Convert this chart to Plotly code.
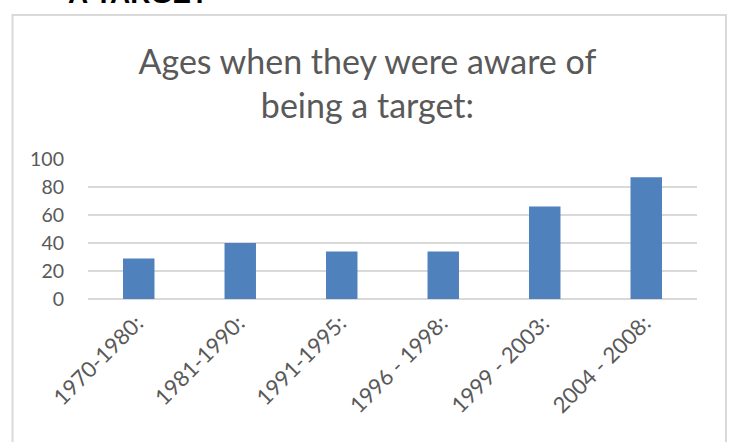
import plotly.graph_objects as go

categories = ["1970-1980:", "1981-1990:", "1991-1995:", "1996 - 1998:", "1999 - 2003:", "2004 - 2008:"]
values = [29, 40, 34, 34, 66, 87]
y_ticks = [0, 20, 40, 60, 80, 100]
title_lines = ["Ages when they were aware of", "being a target:"]
header_text = "A TARGET"

W, H = 729, 442
L, R, T, B = 88, 32, 159, 143
PW, PH = W - L - R, H - T - B

def px_x(p):
    return (p - L) / PW

def px_y(p):
    return (H - B - p) / PH

FONT = "Lato"
GREY = "#595959"
GRID = "#D9D9D9"

fig = go.Figure(
    go.Bar(
        x=categories,
        y=values,
        marker=dict(color="#4F81BD", line=dict(width=0)),
    )
)

fig.update_layout(
    width=W,
    height=H,
    margin=dict(l=L, r=R, t=T, b=B, pad=0),
    paper_bgcolor="white",
    plot_bgcolor="white",
    bargap=0.69,
    showlegend=False,
    font=dict(family=FONT, color=GREY),
    title=dict(
        text="<br>".join(title_lines),
        font=dict(family=FONT, size=34, color=GREY),
        x=0.504,
        xanchor="center",
        xref="container",
        y=1 - 74 / H,
        yanchor="top",
        yref="container",
    ),
    xaxis=dict(
        showgrid=False,
        showline=False,
        tickangle=-45,
        tickfont=dict(family=FONT, size=22, color=GREY),
        ticks="",
        ticklabelstandoff=6,
        ticklabelshift=-2,
    ),
    yaxis=dict(
        range=[0, 100],
        tickvals=y_ticks,
        showgrid=True,
        gridcolor=GRID,
        gridwidth=1.5,
        zeroline=True,
        zerolinecolor=GRID,
        zerolinewidth=2,
        showline=False,
        ticks="",
        tickfont=dict(family=FONT, size=19.5, color=GREY),
        ticklabelstandoff=23,
    ),
)

# outer chart border (bottom edge lies below the visible area)
fig.add_shape(
    type="rect",
    xref="paper",
    yref="paper",
    x0=px_x(12.5),
    x1=px_x(726),
    y0=px_y(460),
    y1=px_y(15),
    line=dict(color=GRID, width=2),
    fillcolor="rgba(0,0,0,0)",
    layer="below",
)

# partially visible heading above the chart
fig.add_annotation(
    text="<b>" + header_text + "</b>",
    xref="paper",
    yref="paper",
    x=px_x(66),
    xanchor="left",
    y=px_y(11),
    yanchor="bottom",
    showarrow=False,
    font=dict(family="Liberation Sans", size=28, color="black"),
)

fig.write_html(
    "out.html",
    config={"displayModeBar": False},
    post_script="document.body.style.margin='0';",
)
